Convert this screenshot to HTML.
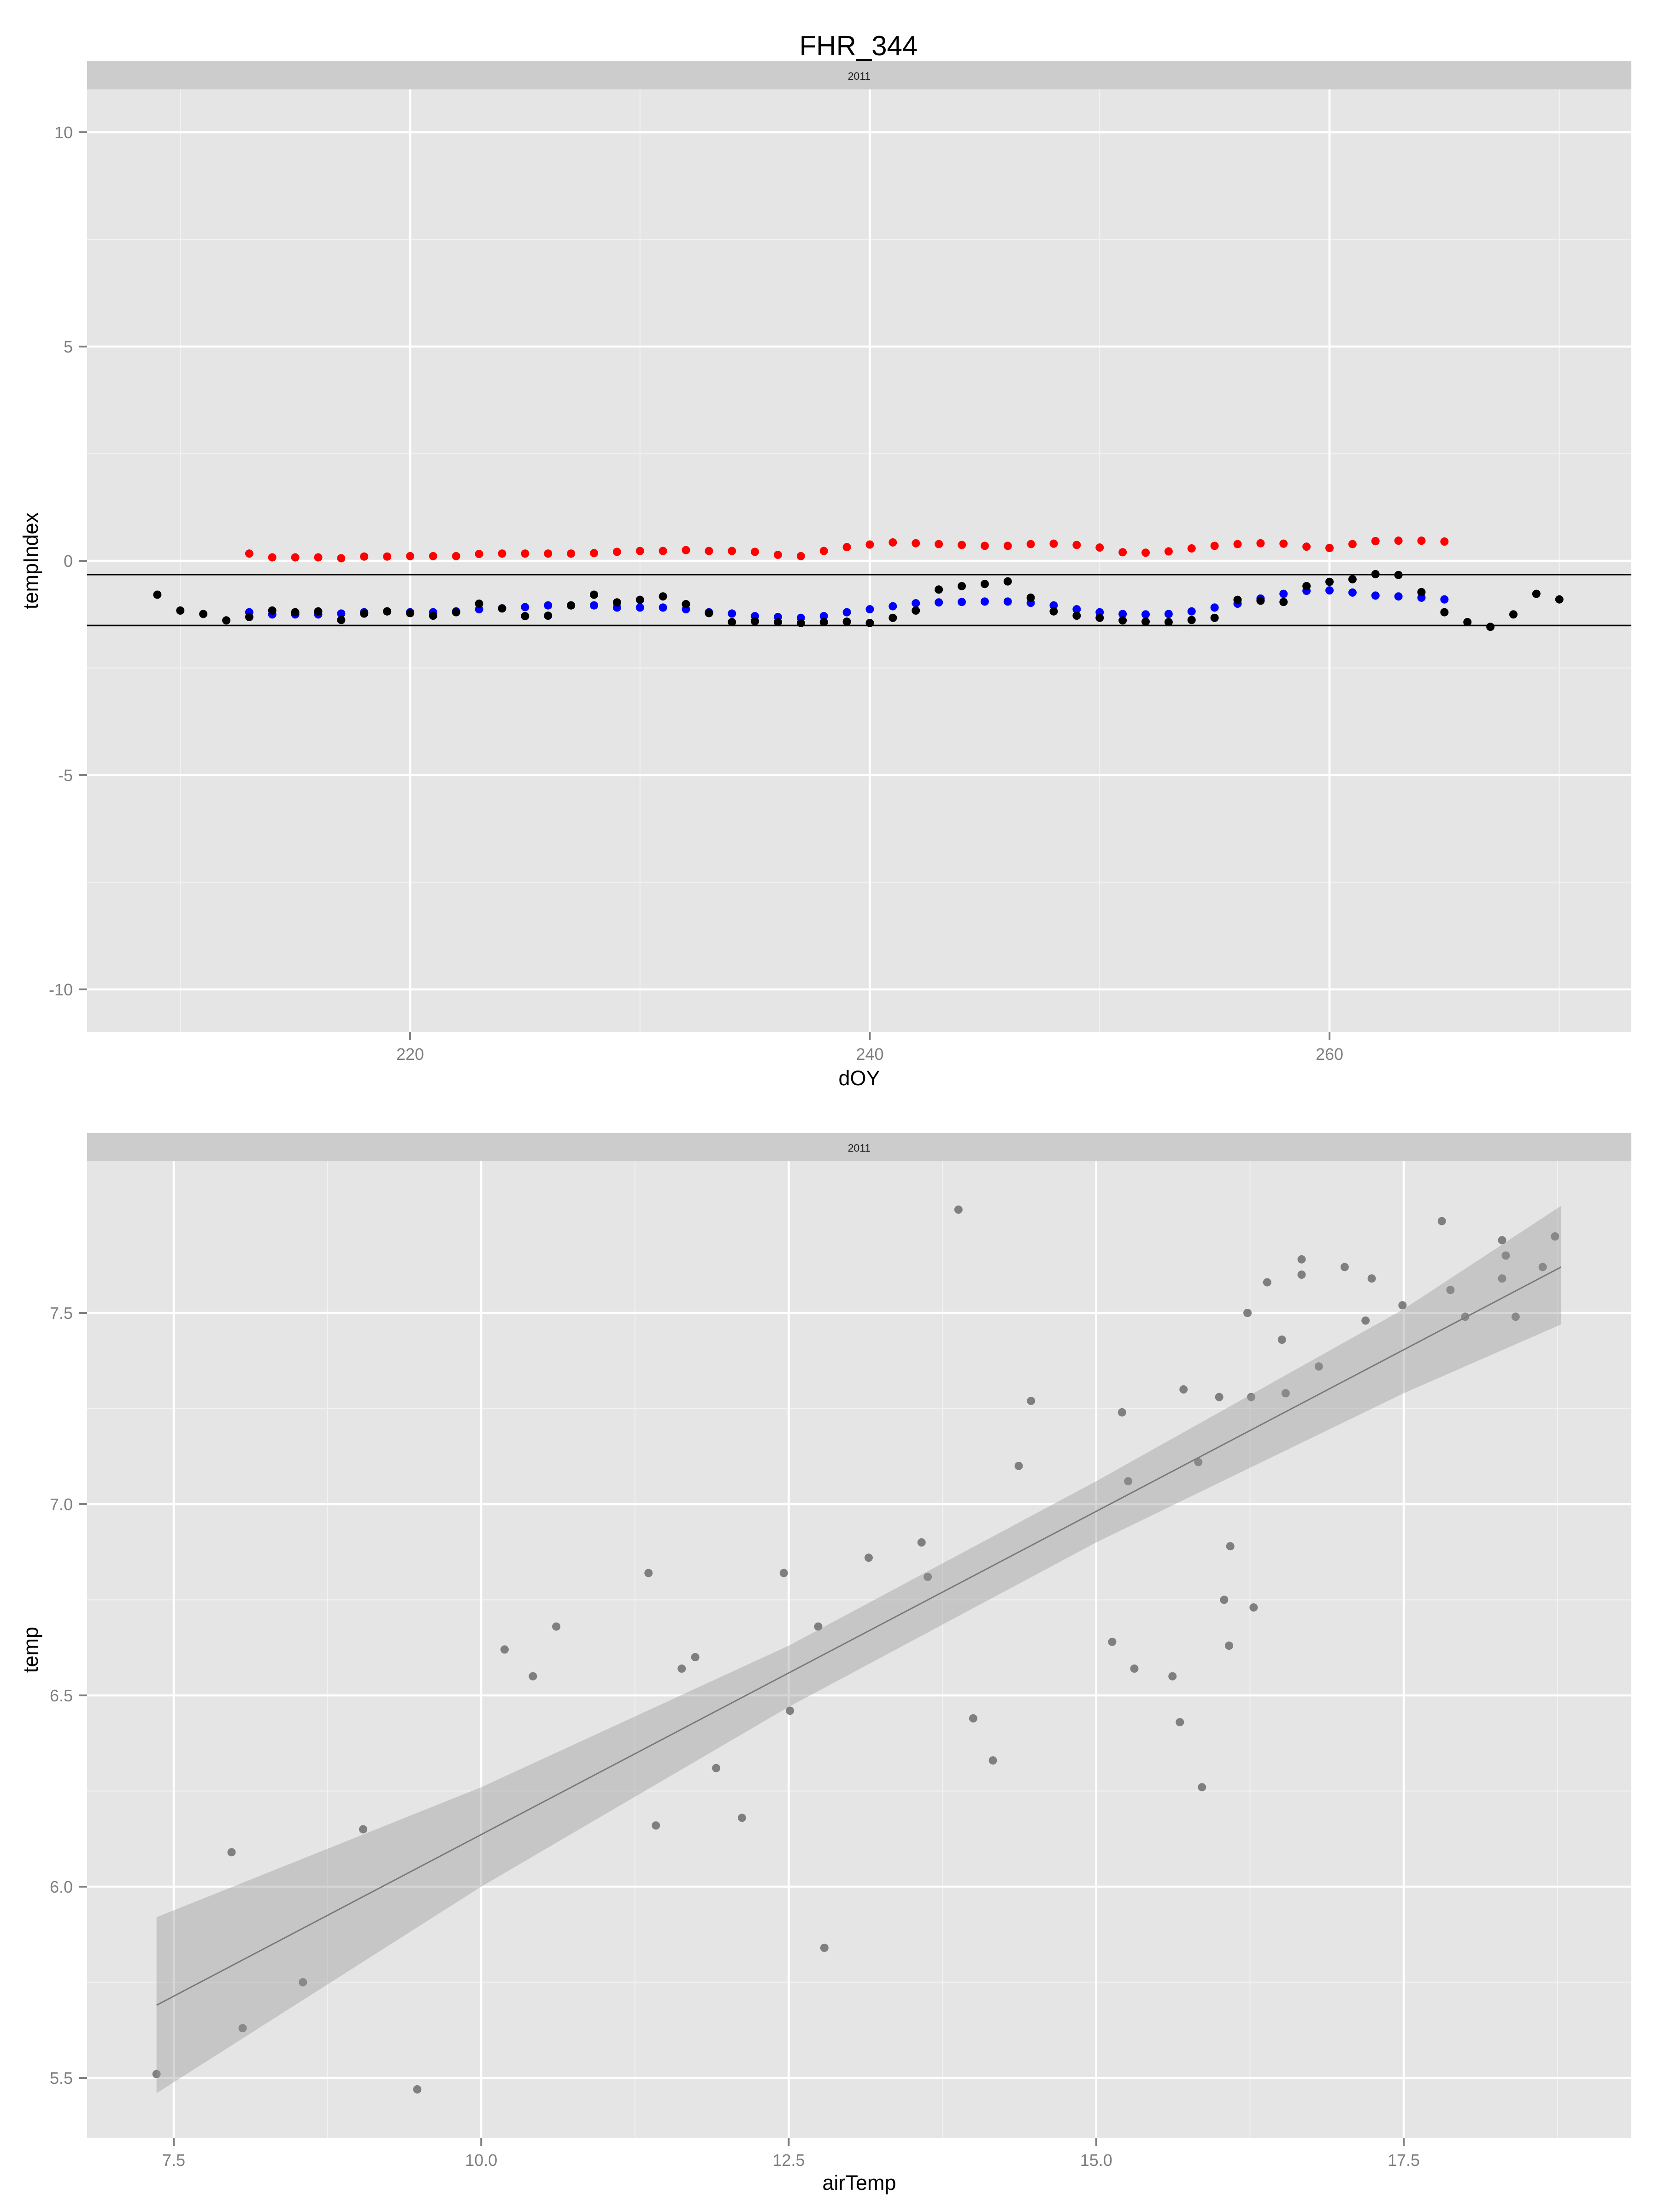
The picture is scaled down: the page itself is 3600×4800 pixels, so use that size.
<!DOCTYPE html>
<html><head><meta charset="utf-8"><style>
html,body{margin:0;padding:0;background:#fff;}
svg{display:block;font-family:"Liberation Sans",Arial,sans-serif;}
</style></head><body>
<svg id="chart" width="3600" height="4800" viewBox="0 0 3600 4800" xmlns="http://www.w3.org/2000/svg">
<rect x="0" y="0" width="3600" height="4800" fill="#ffffff"/>
<text x="1863" y="120" font-size="60" text-anchor="middle" fill="#000">FHR_344</text>
<g id="top"></g>
<g id="bot"></g>
</svg>
<script>
// ---- top panel data ----
const blackDays = [209,210,211,212,213,214,215,216,217,218,219,220,221,222,223,224,225,226,227,228,229,230,231,232,233,234,235,236,237,238,239,240,241,242,243,244,245,246,247,248,249,250,251,252,253,254,255,256,257,258,259,260,261,262,263,264,265,266,267,268,269,270];
const blackVals = [-0.79,-1.16,-1.24,-1.39,-1.31,-1.16,-1.20,-1.18,-1.38,-1.23,-1.18,-1.22,-1.28,-1.20,-1.00,-1.11,-1.29,-1.28,-1.04,-0.79,-0.97,-0.91,-0.83,-1.01,-1.22,-1.43,-1.41,-1.43,-1.45,-1.43,-1.42,-1.45,-1.33,-1.16,-0.67,-0.59,-0.54,-0.48,-0.86,-1.18,-1.28,-1.33,-1.39,-1.42,-1.43,-1.38,-1.33,-0.91,-0.93,-0.96,-0.59,-0.49,-0.43,-0.31,-0.33,-0.73,-1.20,-1.43,-1.54,-1.25,-0.77,-0.90];
const colDays = [213,214,215,216,217,218,219,220,221,222,223,224,225,226,227,228,229,230,231,232,233,234,235,236,237,238,239,240,241,242,243,244,245,246,247,248,249,250,251,252,253,254,255,256,257,258,259,260,261,262,263,264,265];
const redVals = [0.17,0.08,0.08,0.08,0.06,0.10,0.10,0.11,0.11,0.11,0.16,0.17,0.17,0.17,0.17,0.18,0.21,0.23,0.23,0.25,0.23,0.23,0.21,0.14,0.11,0.23,0.32,0.38,0.43,0.41,0.39,0.37,0.35,0.35,0.39,0.40,0.37,0.31,0.20,0.19,0.22,0.29,0.35,0.39,0.41,0.40,0.33,0.30,0.39,0.46,0.47,0.47,0.45];
const blueVals = [-1.20,-1.25,-1.25,-1.25,-1.23,-1.20,-1.18,-1.20,-1.20,-1.18,-1.13,-1.11,-1.08,-1.04,-1.04,-1.04,-1.09,-1.09,-1.09,-1.13,-1.20,-1.23,-1.29,-1.31,-1.33,-1.29,-1.20,-1.13,-1.06,-0.99,-0.97,-0.96,-0.95,-0.95,-0.98,-1.04,-1.13,-1.20,-1.24,-1.25,-1.24,-1.18,-1.09,-1.00,-0.88,-0.77,-0.70,-0.69,-0.74,-0.81,-0.83,-0.86,-0.90];
const hLines = [-0.32,-1.51];
const topXTicks = [220,240,260];
const topXMinor = [210,230,250,270];
const topYTicks = [-10,-5,0,5,10];
const topYMinor = [-7.5,-2.5,2.5,7.5];
// ---- bottom panel data ----
const airTemp = [7.36,7.97,8.06,8.55,9.04,9.48,10.19,10.42,10.61,11.36,11.42,11.63,11.74,11.91,12.12,12.46,12.51,12.74,12.79,13.15,13.58,13.63,13.88,14.0,14.16,14.37,14.47,15.13,15.21,15.26,15.31,15.62,15.68,15.71,15.83,15.86,16.0,16.04,16.08,16.09,16.23,16.26,16.28,16.39,16.51,16.54,16.67,16.67,16.81,17.02,17.19,17.24,17.49,17.81,17.88,18.0,18.30,18.33,18.30,18.41,18.63,18.73];
const tempVals = [5.51,6.09,5.63,5.75,6.15,5.47,6.62,6.55,6.68,6.82,6.16,6.57,6.60,6.31,6.18,6.82,6.46,6.68,5.84,6.86,6.90,6.81,7.77,6.44,6.33,7.10,7.27,6.64,7.24,7.06,6.57,6.55,6.43,7.30,7.11,6.26,7.28,6.75,6.63,6.89,7.50,7.28,6.73,7.58,7.43,7.29,7.64,7.60,7.36,7.62,7.48,7.59,7.52,7.74,7.56,7.49,7.69,7.65,7.59,7.49,7.62,7.70];
const fitX = [7.36,18.78];
const fitY = [5.69,7.62];
const bandX = [7.36,10,12.5,15,17.5,18.78];
const bandLo = [5.46,6.00,6.47,6.90,7.29,7.47];
const bandHi = [5.92,6.26,6.63,7.06,7.51,7.78];
const botXTicks = [7.5,10,12.5,15,17.5];
const botXLabels = ["7.5","10.0","12.5","15.0","17.5"];
const botXMinor = [8.75,11.25,13.75,16.25,18.75];
const botYTicks = [5.5,6.0,6.5,7.0,7.5];
const botYLabels = ["5.5","6.0","6.5","7.0","7.5"];
const botYMinor = [5.25,5.75,6.25,6.75,7.25];

const NS="http://www.w3.org/2000/svg";
function mk(parent,tag,attrs){const e=document.createElementNS(NS,tag);for(const k in attrs)e.setAttribute(k,attrs[k]);parent.appendChild(e);return e;}

function panel(g,L,R,T,B,stripTop,xs,ys,xMaj,xMin,yMaj,yMin,xLab,yLab,xTitle,yTitle,titleY,prefix){
  let e;
  e=mk(g,'rect',{x:L,y:stripTop,width:R-L,height:T-stripTop,fill:'#cccccc'});
  
  
  e=mk(g,'text',{x:(L+R)/2,y:stripTop+40,'font-size':23,'text-anchor':'middle',fill:'#1a1a1a'});
  e.textContent='2011';
  
  
  e=mk(g,'rect',{x:L,y:T,width:R-L,height:B-T,fill:'#e5e5e5'});
  
  
  xMin.forEach(v=>{const x=xs(v);if(x>L&&x<R){e=mk(g,'line',{x1:x,x2:x,y1:T,y2:B,stroke:'#f2f2f2','stroke-width':2});
    
    }});
  yMin.forEach(v=>{const y=ys(v);if(y>T&&y<B){e=mk(g,'line',{x1:L,x2:R,y1:y,y2:y,stroke:'#f2f2f2','stroke-width':2});
    
    }});
  xMaj.forEach((v,i)=>{const x=xs(v);
    e=mk(g,'line',{x1:x,x2:x,y1:T,y2:B,stroke:'#ffffff','stroke-width':4.5});
    
    
    e=mk(g,'line',{x1:x,x2:x,y1:B,y2:B+17,stroke:'#7f7f7f','stroke-width':4});
    
    
    e=mk(g,'text',{x:x,y:B+60,'font-size':36,'text-anchor':'middle',fill:'#7f7f7f'});
    e.textContent=xLab[i];
    
    });
  yMaj.forEach((v,i)=>{const y=ys(v);
    e=mk(g,'line',{x1:L,x2:R,y1:y,y2:y,stroke:'#ffffff','stroke-width':4.5});
    
    
    e=mk(g,'line',{x1:L-17,x2:L,y1:y,y2:y,stroke:'#7f7f7f','stroke-width':4});
    
    
    e=mk(g,'text',{x:L-31,y:y+13,'font-size':36,'text-anchor':'end',fill:'#7f7f7f'});
    e.textContent=yLab[i];
    
    });
  e=mk(g,'text',{x:(L+R)/2,y:titleY,'font-size':45,'text-anchor':'middle',fill:'#000'});
  e.textContent=xTitle;
  
  
  const cy=(T+B)/2;
  e=mk(g,'text',{x:82,y:cy,'font-size':45,'text-anchor':'middle',fill:'#000',transform:`rotate(-90 82 ${cy})`});
  e.textContent=yTitle;
  
  
}

// top panel
(function(){
  const g=document.getElementById('top');
  const L=189,R=3540,T=194,B=2240;
  const xs=v=>890+(v-220)*49.875;
  const ys=v=>1217-v*93;
  panel(g,L,R,T,B,133,xs,ys,topXTicks,topXMinor,topYTicks,topYMinor,topXTicks.map(String),topYTicks.map(String),'dOY','tempIndex',2355,'top');
  let e;
  blueVals.forEach((v,i)=>{e=mk(g,'circle',{cx:xs(colDays[i]),cy:ys(v),r:9,fill:'#0000ff'});
    
    });
  blackVals.forEach((v,i)=>{e=mk(g,'circle',{cx:xs(blackDays[i]),cy:ys(v),r:9,fill:'#000000'});
    
    });
  redVals.forEach((v,i)=>{e=mk(g,'circle',{cx:xs(colDays[i]),cy:ys(v),r:9,fill:'#ff0000'});
    
    });
  hLines.forEach(v=>{e=mk(g,'line',{x1:L,x2:R,y1:ys(v),y2:ys(v),stroke:'#000','stroke-width':3.5});
    
    });
})();

// bottom panel
(function(){
  const g=document.getElementById('bot');
  const L=189,R=3540,T=2520,B=4640;
  const xs=v=>377+(v-7.5)*266.9;
  const ys=v=>4094-(v-6)*830;
  panel(g,L,R,T,B,2459,xs,ys,botXTicks,botXMinor,botYTicks,botYMinor,botXLabels,botYLabels,'airTemp','temp',4752,'bottom');
  let e;
  tempVals.forEach((v,i)=>{e=mk(g,'circle',{cx:xs(airTemp[i]),cy:ys(v),r:9,fill:'#7f7f7f'});
    
    });
  let d='M'+bandX.map((x,i)=>xs(x)+','+ys(bandHi[i])).join(' L');
  for(let i=bandX.length-1;i>=0;i--) d+=' L'+xs(bandX[i])+','+ys(bandLo[i]);
  d+=' Z';
  e=mk(g,'path',{d:d,fill:'#999999','fill-opacity':0.4});
  
  
  e=mk(g,'line',{x1:xs(fitX[0]),y1:ys(fitY[0]),x2:xs(fitX[1]),y2:ys(fitY[1]),stroke:'#7a7a7a','stroke-width':3});
  
  
})();
</script>
</body></html>
